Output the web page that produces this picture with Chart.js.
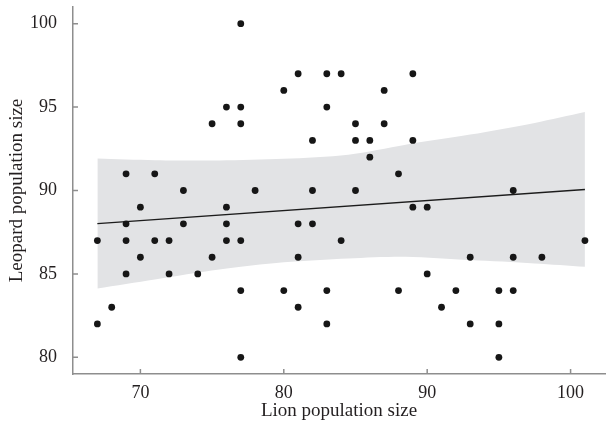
<!DOCTYPE html>
<html><head><meta charset="utf-8">
<script src="https://cdn.jsdelivr.net/npm/chart.js@4/dist/chart.umd.min.js"></script>
<style>html,body{margin:0;padding:0;background:#fff}canvas{display:block}</style>
</head><body>
<canvas id="c" width="609" height="430"></canvas>
<script>
// Observed data: lion population size (x) vs leopard population size (y)
const lionSize = [
  67,67, 68, 69,69,69,69, 70,70, 71,71, 72,72, 73,73, 74, 75,75, 76,76,76,76,
  77,77,77,77,77,77, 78, 80,80, 81,81,81,81, 82,82,82, 83,83,83,83, 84,84,
  85,85,85, 86,86, 87,87, 88,88, 89,89,89, 90,90, 91, 92, 93,93, 95,95,95,
  96,96,96, 98, 101
];
const leopardSize = [
  87,82, 83, 91,88,87,85, 89,86, 91,87, 87,85, 90,88, 85, 94,86, 95,89,88,87,
  100,95,94,87,84,80, 90, 96,84, 97,88,86,83, 93,90,88, 97,95,84,82, 97,87,
  94,93,90, 93,92, 96,94, 91,84, 97,93,89, 89,85, 83, 84, 86,82, 84,82,80,
  90,86,84, 86, 87
];
// Fitted regression line (end points)
const fitX = [67, 101];
const fitY = [88.02, 90.06];
// Confidence band edges
const bandX     = [67,    71,    75.5,  80,    84.5,  88.5,  93,    97.5,  101];
const bandUpper = [91.92, 91.82, 91.80, 91.90, 92.15, 92.75, 93.35, 94.05, 94.70];
const bandLower = [84.13, 84.67, 85.27, 85.70, 85.93, 86.03, 85.83, 85.63, 85.43];
// Axis ticks
const xTicks = [70, 80, 90, 100];
const yTicks = [80, 85, 90, 95, 100];

const pts = (xs, ys) => xs.map((x, i) => ({x, y: ys[i]}));
const AXIS = '#8e8e8e';
const TEXT = '#231f20';

const innerTicks = {
  id: 'innerTicks',
  afterDraw(chart) {
    const ctx = chart.ctx, xs = chart.scales.x, ys = chart.scales.y;
    ctx.save();
    ctx.strokeStyle = AXIS; ctx.lineWidth = 1.5;
    ctx.beginPath();
    xs.ticks.forEach(t => {
      const px = xs.getPixelForValue(t.value);
      ctx.moveTo(px, xs.top); ctx.lineTo(px, xs.top - 5);
    });
    ys.ticks.forEach(t => {
      const py = ys.getPixelForValue(t.value);
      ctx.moveTo(ys.right, py); ctx.lineTo(ys.right + 5, py);
    });
    ctx.stroke();
    ctx.restore();
  }
};

Chart.defaults.font.family = "'Liberation Serif', 'Times New Roman', serif";
Chart.defaults.color = TEXT;

new Chart(document.getElementById('c'), {
  type: 'scatter',
  data: {
    datasets: [
      { type: 'scatter', data: pts(lionSize, leopardSize), order: 0,
        pointRadius: 3.4, pointBackgroundColor: '#161616', pointBorderWidth: 0, borderWidth: 0 },
      { type: 'line', data: pts(fitX, fitY), order: 1,
        borderColor: '#1c1c1c', borderWidth: 1.3, pointRadius: 0, fill: false },
      { type: 'line', data: pts(bandX, bandUpper), order: 2,
        borderWidth: 0, borderColor: 'rgba(0,0,0,0)', pointRadius: 0, tension: 0.3,
        backgroundColor: '#e2e3e5', fill: '+1' },
      { type: 'line', data: pts(bandX, bandLower), order: 3,
        borderWidth: 0, borderColor: 'rgba(0,0,0,0)', pointRadius: 0, tension: 0.3, fill: false }
    ]
  },
  options: {
    responsive: false,
    animation: false,
    events: [],
    layout: { padding: { top: 7, right: 0, left: 0, bottom: 0 } },
    plugins: { legend: { display: false }, tooltip: { enabled: false } },
    scales: {
      x: {
        type: 'linear', min: 65.3, max: 102.4,
        afterBuildTicks: s => { s.ticks = xTicks.map(v => ({ value: v })); },
        afterFit: s => { s.height = 56; s.paddingLeft = 0; s.paddingRight = 0; },
        grid: { display: false },
        border: { color: AXIS, width: 1.5 },
        ticks: { font: { size: 18 }, padding: 0, color: TEXT, maxRotation: 0 },
        title: { display: true, text: 'Lion population size', font: { size: 19 }, color: TEXT,
                 padding: { top: 0, bottom: 8 } }
      },
      y: {
        type: 'linear', min: 79, max: 101,
        afterBuildTicks: s => { s.ticks = yTicks.map(v => ({ value: v })); },
        afterFit: s => { s.width = 73; s.paddingTop = 0; s.paddingBottom = 0; },
        grid: { display: false },
        border: { color: AXIS, width: 1.5 },
        ticks: { font: { size: 18 }, padding: 8, color: TEXT },
        title: { display: true, text: 'Leopard population size', font: { size: 19 }, color: TEXT,
                 padding: { top: 6, bottom: 0 } }
      }
    }
  },
  plugins: [innerTicks]
});
</script>
</body></html>
